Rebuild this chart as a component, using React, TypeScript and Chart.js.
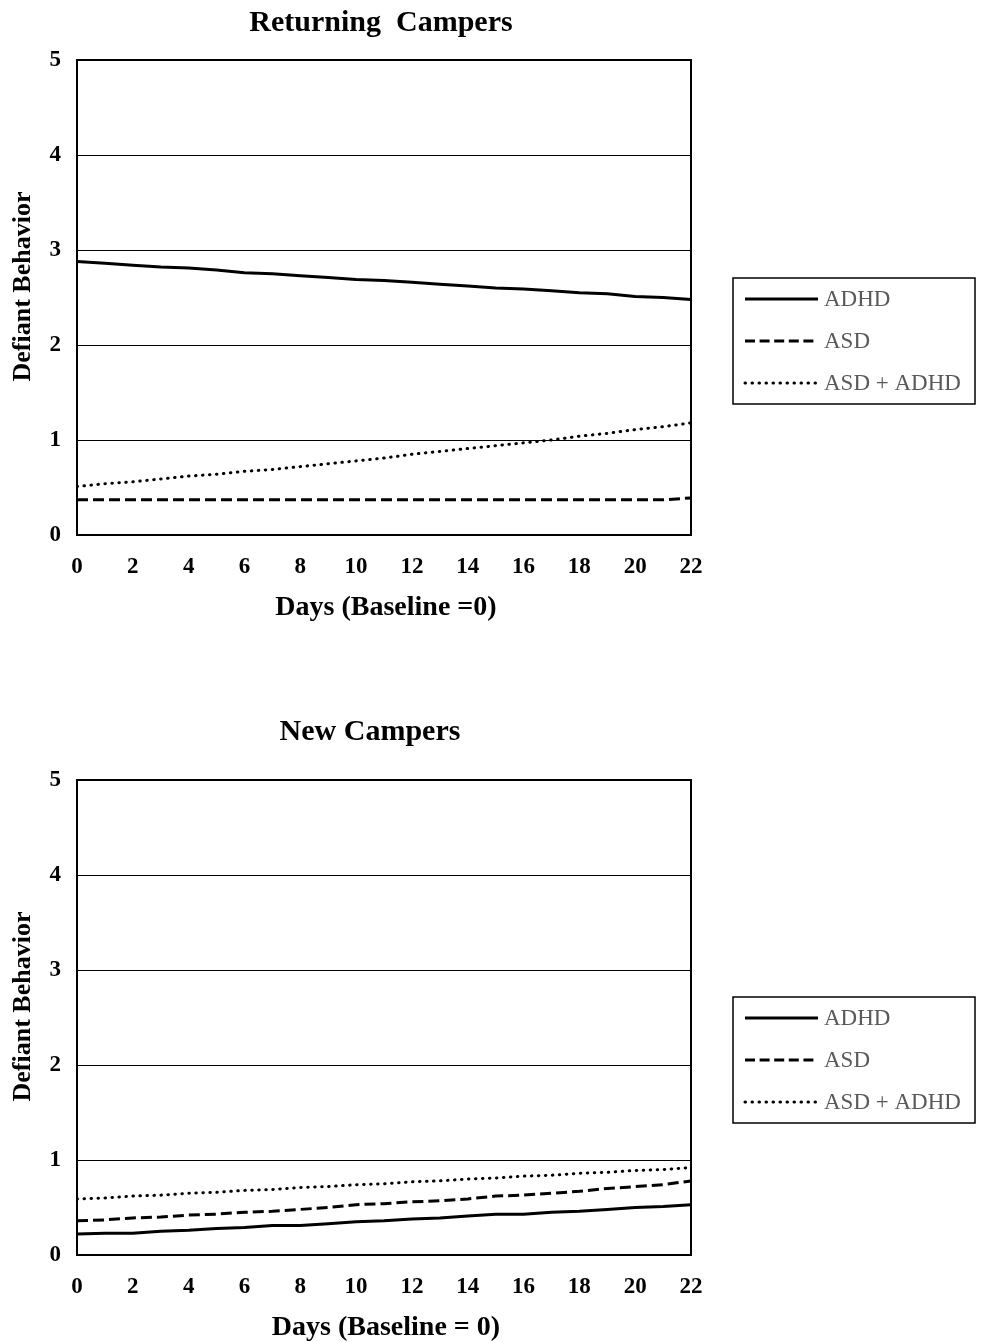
import React, { useEffect, useRef } from "react";
import { Chart, registerables } from "chart.js";

Chart.register(...registerables);

const days = [0, 1, 2, 3, 4, 5, 6, 7, 8, 9, 10, 11, 12, 13, 14, 15, 16, 17, 18, 19, 20, 21, 22];
const seriesNames = ["ADHD", "ASD", "ASD + ADHD"];

const returningADHD = [2.88, 2.86, 2.84, 2.82, 2.81, 2.79, 2.76, 2.75, 2.73, 2.71, 2.69, 2.68, 2.66, 2.64, 2.62, 2.6, 2.59, 2.57, 2.55, 2.54, 2.51, 2.5, 2.48];
const returningASD = [0.37, 0.37, 0.37, 0.37, 0.37, 0.37, 0.37, 0.37, 0.37, 0.37, 0.37, 0.37, 0.37, 0.37, 0.37, 0.37, 0.37, 0.37, 0.37, 0.37, 0.37, 0.37, 0.39];
const returningBoth = [0.51, 0.54, 0.56, 0.59, 0.62, 0.64, 0.67, 0.69, 0.72, 0.75, 0.78, 0.81, 0.85, 0.88, 0.91, 0.94, 0.97, 1.0, 1.04, 1.07, 1.11, 1.14, 1.18];

const newADHD = [0.22, 0.23, 0.23, 0.25, 0.26, 0.28, 0.29, 0.31, 0.31, 0.33, 0.35, 0.36, 0.38, 0.39, 0.41, 0.43, 0.43, 0.45, 0.46, 0.48, 0.5, 0.51, 0.53];
const newASD = [0.36, 0.37, 0.39, 0.4, 0.42, 0.43, 0.45, 0.46, 0.48, 0.5, 0.53, 0.54, 0.56, 0.57, 0.59, 0.62, 0.63, 0.65, 0.67, 0.7, 0.72, 0.74, 0.78];
const newBoth = [0.59, 0.6, 0.62, 0.63, 0.65, 0.66, 0.68, 0.69, 0.71, 0.72, 0.74, 0.75, 0.77, 0.78, 0.8, 0.81, 0.83, 0.84, 0.86, 0.87, 0.89, 0.9, 0.92];

const SERIF = "'Liberation Serif', 'Times New Roman', serif";
const dashes: number[][] = [[], [11, 5], [0.5, 6.5]];
const caps = ["butt", "butt", "round"];

type PanelProps = {
  title: string;
  xTitle: string;
  series: number[][];
  height: number;
  plotTop: number;
  titleY: number;
  titleX: number;
  legendTop: number;
};

function Panel(props: PanelProps) {
  const ref = useRef<HTMLCanvasElement>(null);
  useEffect(() => {
    const { title, xTitle, series, height, plotTop, titleY, titleX, legendTop } = props;
    const plotH = 475;
    const xAxisH = 80;
    const bottomPad = height - (plotTop + plotH) - xAxisH;

    const decor = {
      id: "decor",
      afterDraw(chart: any) {
        const ctx = chart.ctx as CanvasRenderingContext2D;
        const a = chart.chartArea;
        ctx.save();
        // plot border
        ctx.strokeStyle = "#000";
        ctx.lineWidth = 2;
        ctx.setLineDash([]);
        ctx.strokeRect(a.left, a.top, a.right - a.left, a.bottom - a.top);
        // title
        ctx.fillStyle = "#000";
        ctx.font = `bold 30px ${SERIF}`;
        ctx.textAlign = "center";
        ctx.textBaseline = "middle";
        ctx.fillText(title, titleX, titleY);
        // x title
        ctx.font = `bold 28px ${SERIF}`;
        ctx.fillText(xTitle, 386, a.bottom + 73);
        // y title
        ctx.save();
        ctx.font = `bold 26px ${SERIF}`;
        ctx.translate(23, (a.top + a.bottom) / 2 - 11);
        ctx.rotate(-Math.PI / 2);
        ctx.fillText("Defiant Behavior", 0, 0);
        ctx.restore();
        // legend
        ctx.lineWidth = 1.5;
        ctx.strokeRect(733, legendTop, 242, 126);
        chart.data.datasets.forEach((ds: any, i: number) => {
          const y = legendTop + 21 + i * 42;
          ctx.beginPath();
          ctx.lineWidth = 3;
          ctx.lineCap = caps[i] as CanvasLineCap;
          ctx.setLineDash(i === 1 ? [10, 4.6] : dashes[i]);
          ctx.moveTo(745, y);
          ctx.lineTo(818, y);
          ctx.stroke();
          ctx.setLineDash([]);
          ctx.fillStyle = "#595959";
          ctx.font = `23px ${SERIF}`;
          ctx.textAlign = "left";
          ctx.textBaseline = "middle";
          ctx.fillText(ds.label, 824, y + 1);
        });
        ctx.restore();
      },
    };

    const chart = new Chart(ref.current!, {
      type: "line",
      data: {
        datasets: series.map((s, i) => ({
          label: seriesNames[i],
          data: days.map((d, j) => ({ x: d, y: s[j] })),
          borderColor: "#000",
          borderWidth: 3,
          borderDash: dashes[i],
          borderCapStyle: caps[i] as any,
          pointRadius: 0,
          tension: 0,
          fill: false,
        })),
      },
      options: {
        animation: false,
        responsive: false,
        layout: { padding: { top: plotTop, left: 0, right: 290, bottom: bottomPad } },
        plugins: {
          legend: { display: false },
          tooltip: { enabled: false },
          title: { display: false },
        },
        scales: {
          x: {
            type: "linear",
            min: 0,
            max: 22,
            ticks: {
              stepSize: 2,
              padding: 18,
              color: "#000",
              font: { family: SERIF, size: 23, weight: "bold" },
            },
            grid: { display: false, drawTicks: false },
            border: { display: false },
            afterFit: (s: any) => {
              s.height = xAxisH;
            },
          },
          y: {
            min: 0,
            max: 5,
            ticks: {
              stepSize: 1,
              padding: 16,
              color: "#000",
              font: { family: SERIF, size: 23, weight: "bold" },
            },
            grid: { color: "#000", lineWidth: 1, drawTicks: false },
            border: { display: false },
            afterFit: (s: any) => {
              s.width = 77;
            },
          },
        },
      },
      plugins: [decor],
    } as any);
    return () => chart.destroy();
  }, []);
  return <canvas ref={ref} width={981} height={props.height} style={{ display: "block" }} />;
}

export default function App() {
  return (
    <div style={{ position: "absolute", left: 0, top: 0, width: 981, height: 1342, background: "#fff" }}>
      <Panel
        title="Returning  Campers"
        xTitle="Days (Baseline =0)"
        series={[returningADHD, returningASD, returningBoth]}
        height={670}
        plotTop={60}
        titleY={23}
        titleX={381}
        legendTop={278}
      />
      <Panel
        title="New Campers"
        xTitle="Days (Baseline = 0)"
        series={[newADHD, newASD, newBoth]}
        height={672}
        plotTop={110}
        titleY={62}
        titleX={370}
        legendTop={327}
      />
    </div>
  );
}
